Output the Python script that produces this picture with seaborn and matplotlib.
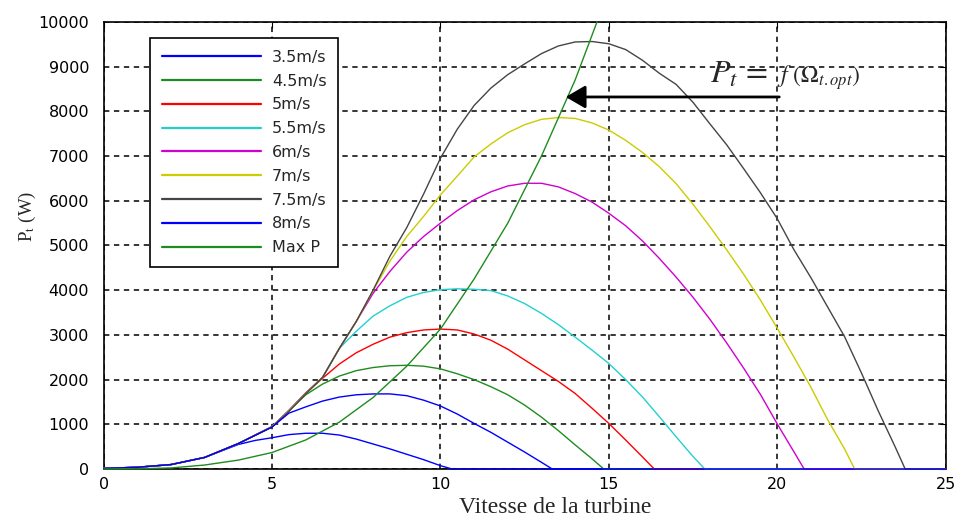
import pandas as pd
import seaborn as sns
import matplotlib.pyplot as plt

# legend entries and MATLAB-like colours, in plotting order
labels = ["3.5m/s", "4.5m/s", "5m/s", "5.5m/s", "6m/s", "7m/s", "7.5m/s", "8m/s", "Max P"]
colors = ["#0000ff", "#1f8c1f", "#ff0000", "#22d0d0", "#d000d0", "#cccc00", "#454545", "#0000ff", "#1f8c1f"]

# values: turbine speed -> power (W)
w_35 = [0, 1, 2, 3, 4, 4.5, 5, 5.5, 6, 6.5, 7, 7.5, 8, 8.5, 9, 9.5, 10, 10.35, 25]
p_35 = [15, 40, 100, 260, 550, 640, 700, 770, 800, 800, 760, 670, 560, 450, 330, 210, 75, 0, 0]

w_45 = [0, 1, 2, 3, 4, 5, 5.5, 6, 6.5, 7, 7.5, 8, 8.5, 9, 9.5, 10, 10.5, 11, 11.5, 12,
        12.5, 13, 13.5, 14, 14.5, 14.85, 25]
p_45 = [15, 40, 100, 260, 570, 940, 1300, 1660, 1900, 2080, 2200, 2270, 2310, 2320, 2300, 2240,
        2130, 2000, 1840, 1660, 1430, 1160, 860, 540, 230, 0, 0]

w_5 = [0, 1, 2, 3, 4, 5, 5.5, 6, 6.5, 7, 7.5, 8, 8.5, 9, 9.5, 10, 10.5, 11, 11.5, 12, 12.5,
       13, 13.5, 14, 14.5, 15, 15.5, 16, 16.35, 25]
p_5 = [15, 40, 100, 260, 570, 950, 1310, 1700, 2030, 2350, 2600, 2790, 2950, 3050, 3110, 3130,
       3110, 3020, 2880, 2680, 2440, 2200, 1960, 1690, 1360, 1020, 650, 270, 0, 0]

w_55 = [0, 1, 2, 3, 4, 5, 5.5, 6, 6.5, 7, 7.5, 8, 8.5, 9, 9.5, 10, 10.5, 11, 11.5, 12, 12.5,
        13, 13.5, 14, 14.5, 15, 15.5, 16, 16.5, 17, 17.5, 17.85, 25]
p_55 = [15, 40, 100, 260, 570, 950, 1310, 1700, 2050, 2700, 3080, 3420, 3650, 3840, 3950, 4010,
        4030, 4020, 3990, 3870, 3700, 3480, 3230, 2950, 2660, 2360, 2000, 1610, 1170, 720, 280, 0, 0]

w_6 = [0, 1, 2, 3, 4, 5, 5.5, 6, 6.5, 7, 7.5, 8, 8.5, 9, 9.5, 10, 10.5, 11, 11.5, 12, 12.5,
       13, 13.5, 14, 14.5, 15, 15.5, 16, 16.5, 17, 17.5, 18, 18.5, 19, 19.5, 20, 20.5, 20.8, 25]
p_6 = [15, 40, 100, 260, 570, 950, 1310, 1700, 2050, 2700, 3300, 3930, 4420, 4850, 5200, 5500,
       5780, 6020, 6200, 6330, 6390, 6390, 6310, 6160, 5970, 5720, 5440, 5100, 4710, 4290, 3840,
       3350, 2820, 2260, 1670, 1010, 380, 0, 0]

w_7 = [0, 1, 2, 3, 4, 5, 5.5, 6, 6.5, 7, 7.5, 8, 8.5, 9, 9.5, 10, 10.5, 11, 11.5, 12, 12.5,
       13, 13.5, 14, 14.5, 15, 15.5, 16, 16.5, 17, 17.5, 18, 18.5, 19, 19.5, 20, 20.5, 21, 21.5,
       22, 22.3, 25]
p_7 = [15, 40, 100, 260, 570, 950, 1300, 1690, 2050, 2700, 3300, 3990, 4650, 5200, 5650, 6130,
       6550, 6980, 7270, 7520, 7700, 7820, 7860, 7840, 7740, 7580, 7350, 7080, 6760, 6380, 5920,
       5420, 4900, 4360, 3780, 3150, 2500, 1830, 1100, 450, 0, 0]

w_75 = [0, 1, 2, 3, 4, 5, 5.5, 6, 6.5, 7, 7.5, 8, 8.5, 9, 9.5, 10, 10.5, 11, 11.5, 12, 12.5,
        13, 13.5, 14, 14.5, 15, 15.5, 16, 16.5, 17, 17.5, 18, 18.5, 19, 19.5, 20, 20.5, 21, 21.5,
        22, 22.5, 23, 23.5, 23.8, 25]
p_75 = [15, 40, 100, 260, 570, 940, 1290, 1680, 2050, 2700, 3300, 4000, 4760, 5400, 6150, 6950,
        7600, 8130, 8520, 8820, 9060, 9290, 9460, 9550, 9560, 9510, 9380, 9140, 8850, 8600, 8200,
        7720, 7250, 6720, 6180, 5600, 4900, 4280, 3620, 2960, 2150, 1300, 500, 0, 0]

w_8 = [0, 1, 2, 3, 4, 5, 5.5, 6, 6.5, 7, 7.5, 8, 8.5, 9, 9.5, 10, 10.5, 11, 11.5, 12, 12.5,
       13, 13.32, 25]
p_8 = [15, 40, 100, 260, 570, 940, 1250, 1390, 1520, 1610, 1660, 1680, 1680, 1640, 1540, 1410,
       1230, 1020, 820, 600, 380, 150, 0, 0]

w_max = [0, 1, 2, 3, 4, 5, 6, 7, 8, 9, 10, 11, 12, 13, 14, 14.65]
p_max = [0, 5, 25, 90, 200, 370, 650, 1050, 1600, 2300, 3130, 4250, 5500, 7000, 8700, 10000]

curves = [(w_35, p_35), (w_45, p_45), (w_5, p_5), (w_55, p_55), (w_6, p_6),
          (w_7, p_7), (w_75, p_75), (w_8, p_8), (w_max, p_max)]

rows = []
for lab, (w, p) in zip(labels, curves):
    for wi, pi in zip(w, p):
        rows.append((lab, wi, pi))
df = pd.DataFrame(rows, columns=["vent", "omega", "P"])

sns.set_style("white")
plt.rcParams["font.family"] = ["DejaVu Sans"]
plt.rcParams["mathtext.fontset"] = "stix"

fig = plt.figure(figsize=(9.6, 5.2), dpi=100)
ax = fig.add_axes([0.108, 0.098, 0.877, 0.86])

sns.lineplot(data=df, x="omega", y="P", hue="vent", hue_order=labels,
             palette=dict(zip(labels[:-1], colors[:-1])) | {labels[-1]: colors[-1]},
             estimator=None, sort=False, lw=1.0, ax=ax)
for ln in ax.lines:
    ln.set_zorder(3)
    ln.set_clip_on(False)

ax.set_xlim(0, 25)
ax.set_ylim(0, 10000)
ax.set_xticks(range(0, 26, 5))
ax.set_yticks(range(0, 10001, 1000))
ax.grid(True, color="k", linestyle=(0, (3.5, 3)), lw=1.1)
ax.tick_params(direction="in", top=True, right=True, length=4, width=0.8,
               labelsize=11.5, colors="k")
ax.tick_params(axis="y", pad=10.5)
ax.tick_params(axis="x", pad=6)
for s in ax.spines.values():
    s.set_color("k")
    s.set_linewidth(1.2)

ax.set_xlabel("Vitesse de la turbine", family="Liberation Serif", fontsize=17)
ax.xaxis.set_label_coords(0.536, -0.062)
ax.set_ylabel(r"P$_\mathrm{t}$ (W)", family="Liberation Serif", fontsize=13.5)
ax.yaxis.set_label_coords(-0.078, 0.564)

leg = ax.legend(loc="upper left", bbox_to_anchor=(0.0546, 0.964), borderaxespad=0,
                fontsize=11.5, handlelength=6.2, handletextpad=0.7, labelspacing=0.55,
                borderpad=0.75, fancybox=False, framealpha=1, edgecolor="k")
leg.get_frame().set_linewidth(1.2)
for h in leg.get_lines():
    h.set_linewidth(1.6)

ax.annotate("", xy=(13.72, 8320), xytext=(20.06, 8320),
            arrowprops=dict(arrowstyle="-|>,head_length=0.6,head_width=0.35",
                            color="k", lw=2, mutation_scale=20, shrinkA=0, shrinkB=0))
ax.text(18.0, 8640, r"$P_t\,=$", fontsize=23, ha="left", va="baseline")
ax.text(20.0, 8640, r"$f\ (\Omega_{t.opt})$", fontsize=17, ha="left", va="baseline")

fig.savefig("out.png", dpi=100)
